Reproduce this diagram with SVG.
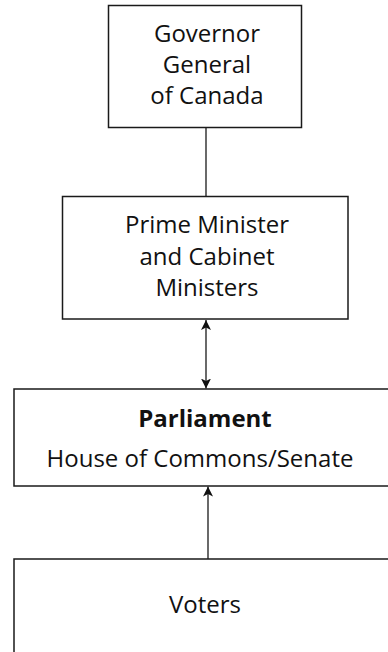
<svg xmlns="http://www.w3.org/2000/svg" width="388" height="652" viewBox="0 0 388 652">
<style>
.box{fill:#fff;stroke:#1a1a1a;stroke-width:1.5}
.t{font-family:"Open Sans","Noto Sans",sans-serif;font-size:24px;fill:#111;text-anchor:middle}
.b{font-weight:bold}
.c{stroke:#1a1a1a;stroke-width:1.3;fill:none}
</style>
<defs>
<marker id="ah" viewBox="0 0 10 10" refX="10" refY="5" markerWidth="10" markerHeight="10" markerUnits="userSpaceOnUse" orient="auto-start-reverse">
<path d="M0,0 L10,5 L0,10 L2.5,5 Z" fill="#111"/>
</marker>
</defs>
<rect width="388" height="652" fill="#fff"/>
<g id="connectors">
<line class="c" x1="206" y1="127.5" x2="206" y2="196"/>
<line class="c" x1="206" y1="320" x2="206" y2="388.5" marker-start="url(#ah)" marker-end="url(#ah)"/>
<line class="c" x1="208" y1="559" x2="208" y2="486.5" marker-end="url(#ah)"/>
</g>
<g id="governor">
<rect class="box" x="108.5" y="5.5" width="193" height="122"/>
<text class="t" x="207" y="41.5">Governor</text>
<text class="t" x="207" y="73">General</text>
<text class="t" x="207" y="104">of Canada</text>
</g>
<g id="pm">
<rect class="box" x="62.5" y="196.5" width="285.5" height="122.5"/>
<text class="t" x="207" y="233">Prime Minister</text>
<text class="t" x="207" y="265">and Cabinet</text>
<text class="t" x="207" y="296">Ministers</text>
</g>
<g id="parliament">
<rect class="box" x="14" y="389" width="400" height="97"/>
<text class="t b" x="205" y="426.5">Parliament</text>
<text class="t" x="200" y="466.5">House of Commons/Senate</text>
</g>
<g id="voters">
<rect class="box" x="14" y="559" width="400" height="200"/>
<text class="t" x="205" y="613">Voters</text>
</g>
</svg>
